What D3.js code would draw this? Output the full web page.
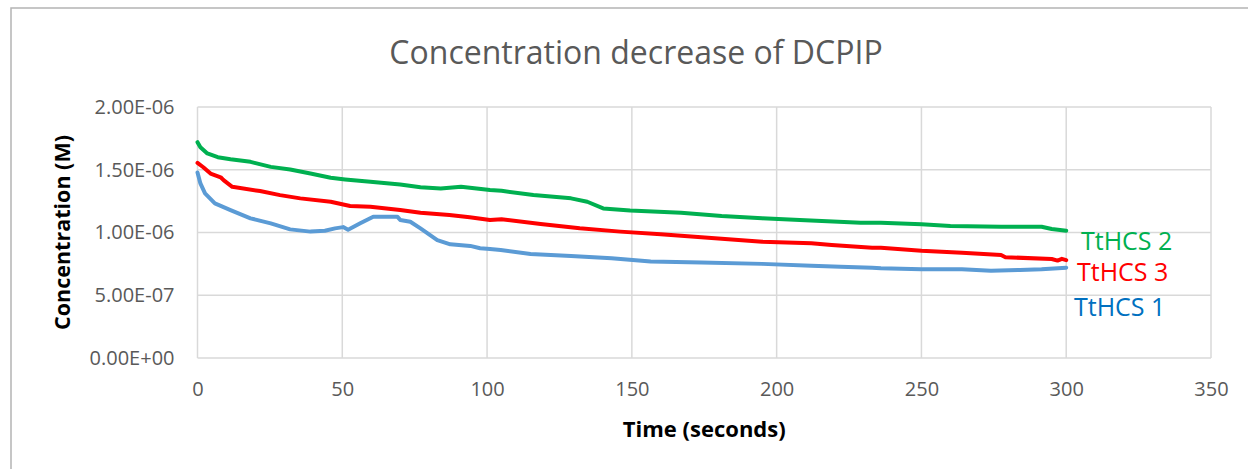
<!DOCTYPE html>
<html lang='en'>

<head>
    <meta charset='UTF-8'>
    <title>Concentration decrease of DCPIP</title>
    <script src='https://d3js.org/d3.v7.min.js' charset='utf-8'></script>
    <style>
        body {
            margin: 0px;
            overflow: hidden;
            background: #ffffff;
            font-family: 'Open Sans', sans-serif;
        }
    </style>
</head>

<body>
    <div id='chart'></div>
    <script>
        'use strict';

        // readings, concentration in M
        const timeS2 = [0, 1, 3.4, 7, 11.4, 18.3, 25.3, 32, 39, 46, 51, 59.7, 70, 77, 84, 91, 101, 105, 116, 129, 134.6, 140.1, 149.4, 167, 181, 195, 208, 229, 236, 250, 260, 277.5, 291.5, 295, 300];
        const concS2 = [1.72e-6, 1.68e-6, 1.63e-6, 1.60e-6, 1.584e-6, 1.563e-6, 1.523e-6, 1.502e-6, 1.47e-6, 1.436e-6, 1.423e-6, 1.404e-6, 1.383e-6, 1.36e-6, 1.351e-6, 1.364e-6, 1.338e-6, 1.332e-6, 1.298e-6, 1.272e-6, 1.245e-6, 1.192e-6, 1.175e-6, 1.157e-6, 1.131e-6, 1.113e-6, 1.099e-6, 1.078e-6, 1.078e-6, 1.065e-6, 1.052e-6, 1.046e-6, 1.046e-6, 1.028e-6, 1.014e-6];

        const timeS3 = [0, 2, 4.5, 8, 9, 12, 21.6, 28.5, 35.5, 46, 52.7, 59.7, 70, 77, 87, 94, 101, 105, 118.5, 132, 146, 160, 174, 195, 212, 219, 233, 236, 250, 264, 277.5, 279, 295, 297, 298.5, 300];
        const concS3 = [1.555e-6, 1.52e-6, 1.47e-6, 1.44e-6, 1.417e-6, 1.364e-6, 1.33e-6, 1.298e-6, 1.272e-6, 1.245e-6, 1.211e-6, 1.205e-6, 1.179e-6, 1.157e-6, 1.139e-6, 1.121e-6, 1.099e-6, 1.105e-6, 1.068e-6, 1.033e-6, 1.007e-6, 0.986e-6, 0.962e-6, 0.927e-6, 0.914e-6, 0.9e-6, 0.879e-6, 0.879e-6, 0.855e-6, 0.839e-6, 0.821e-6, 0.803e-6, 0.789e-6, 0.776e-6, 0.79e-6, 0.78e-6];

        const timeS1 = [0, 1, 2.6, 6, 11.4, 18.3, 25.3, 32, 39, 44, 47.5, 50.3, 52, 56.2, 60.7, 69, 70, 73.5, 77, 82.8, 87.3, 94.2, 97.6, 101, 104.7, 115, 129, 143, 156.5, 174, 195, 212, 222, 233, 236, 250, 264, 274, 284, 291.5, 300];
        const concS1 = [1.478e-6, 1.391e-6, 1.312e-6, 1.232e-6, 1.179e-6, 1.113e-6, 1.073e-6, 1.025e-6, 1.007e-6, 1.014e-6, 1.033e-6, 1.043e-6, 1.022e-6, 1.073e-6, 1.126e-6, 1.126e-6, 1.1e-6, 1.086e-6, 1.033e-6, 0.94e-6, 0.906e-6, 0.893e-6, 0.874e-6, 0.869e-6, 0.861e-6, 0.829e-6, 0.813e-6, 0.795e-6, 0.768e-6, 0.76e-6, 0.75e-6, 0.736e-6, 0.728e-6, 0.72e-6, 0.715e-6, 0.707e-6, 0.707e-6, 0.696e-6, 0.702e-6, 0.707e-6, 0.72e-6];

        const seriesNames = ['TtHCS 2', 'TtHCS 3', 'TtHCS 1'];
        const xTicks = [0, 50, 100, 150, 200, 250, 300, 350];
        const yTicks = [0, 5e-7, 1e-6, 1.5e-6, 2e-6];

        const colors = {
            'TtHCS 2': '#00b050',
            'TtHCS 3': '#ff0000',
            'TtHCS 1': '#5b9bd5',
        };
        const labelColors = {
            'TtHCS 2': '#00b050',
            'TtHCS 3': '#ff0000',
            'TtHCS 1': '#0070c0',
        };

        const series = [
            { name: seriesNames[0], values: timeS2.map((t, i) => ({ t: t, c: concS2[i] })) },
            { name: seriesNames[1], values: timeS3.map((t, i) => ({ t: t, c: concS3[i] })) },
            { name: seriesNames[2], values: timeS1.map((t, i) => ({ t: t, c: concS1[i] })) },
        ];

        const W = 1248, H = 469;
        const margin = { top: 107, right: 37, bottom: 111, left: 197.5 },
            width = W - margin.left - margin.right,
            height = H - margin.top - margin.bottom;

        const root = d3.select('#chart')
            .append('svg')
            .attr('width', W)
            .attr('height', H);

        // outer chart frame
        root.append('rect')
            .attr('x', 11)
            .attr('y', 8)
            .attr('width', W)
            .attr('height', H)
            .attr('fill', 'none')
            .attr('stroke', '#b4b4b4')
            .attr('stroke-width', 1.5);

        root.append('text')
            .attr('x', 636)
            .attr('y', 64)
            .attr('text-anchor', 'middle')
            .style('font-size', '32px')
            .style('fill', '#595959')
            .text('Concentration decrease of DCPIP');

        const svg = root.append('g')
            .attr('transform', `translate(${margin.left}, ${margin.top})`);

        const x = d3.scaleLinear()
            .domain([0, 350])
            .range([0, width]);

        const y = d3.scaleLinear()
            .domain([0, 2e-6])
            .range([height, 0]);

        // grid
        svg.append('g')
            .selectAll('line.vg')
            .data(xTicks)
            .enter()
            .append('line')
            .attr('x1', d => x(d))
            .attr('x2', d => x(d))
            .attr('y1', 0)
            .attr('y2', height)
            .attr('stroke', '#d9d9d9')
            .attr('stroke-width', 1.5);
        svg.append('g')
            .selectAll('line.hg')
            .data(yTicks)
            .enter()
            .append('line')
            .attr('x1', 0)
            .attr('x2', width)
            .attr('y1', d => y(d))
            .attr('y2', d => y(d))
            .attr('stroke', '#d9d9d9')
            .attr('stroke-width', 1.5);

        function styleTicks(g) {
            g.select('.domain').remove();
            g.selectAll('.tick text')
                .style('font-family', "'Open Sans', sans-serif")
                .style('font-size', '20px')
                .style('fill', '#595959');
        }

        svg.append('g')
            .attr('transform', `translate(0, ${height})`)
            .call(d3.axisBottom(x).tickValues(xTicks).tickSize(0).tickPadding(24))
            .call(styleTicks);

        svg.append('g')
            .call(d3.axisLeft(y).tickValues(yTicks).tickSize(0).tickPadding(23)
                .tickFormat(d => d.toExponential(2).replace(/e([+-])(\d)$/, 'e$10$2').toUpperCase()))
            .call(styleTicks);

        svg.append('text')
            .attr('transform', `translate(${62 - margin.left}, ${height / 2}) rotate(-90)`)
            .attr('text-anchor', 'middle')
            .attr('dy', '0.35em')
            .style('font-size', '21.5px')
            .style('font-weight', 'bold')
            .style('fill', '#000')
            .text('Concentration (M)');

        svg.append('text')
            .attr('x', x(175))
            .attr('y', height + 79)
            .attr('text-anchor', 'middle')
            .style('font-size', '22px')
            .style('font-weight', 'bold')
            .style('fill', '#000')
            .text('Time (seconds)');

        const line = d3.line()
            .x(d => x(d.t))
            .y(d => y(d.c));

        svg.selectAll('path.series')
            .data(series)
            .enter()
            .append('path')
            .attr('class', 'series')
            .attr('d', d => line(d.values))
            .attr('fill', 'none')
            .attr('stroke', d => colors[d.name])
            .attr('stroke-width', 4)
            .attr('stroke-linejoin', 'round')
            .attr('stroke-linecap', 'round');

        // labels next to the line ends
        const labelPos = { 'TtHCS 2': [1081, 250], 'TtHCS 3': [1077, 281], 'TtHCS 1': [1074, 316] };
        root.selectAll('text.lbl')
            .data(seriesNames)
            .enter()
            .append('text')
            .attr('class', 'lbl')
            .attr('x', d => labelPos[d][0])
            .attr('y', d => labelPos[d][1])
            .style('font-size', '25px')
            .style('fill', d => labelColors[d])
            .text(d => d);
    </script>
</body>

</html>
